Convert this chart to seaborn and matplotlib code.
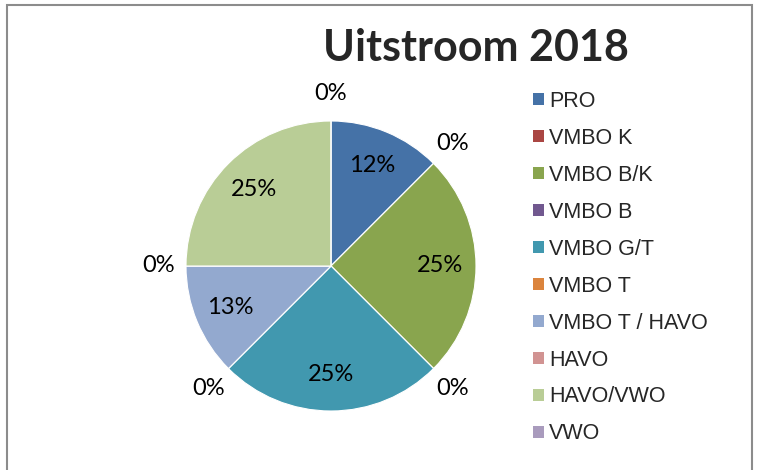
import numpy as np
import matplotlib
matplotlib.use("Agg")
import matplotlib.pyplot as plt
import seaborn as sns
from matplotlib.patches import Rectangle
from matplotlib.font_manager import FontProperties

categories = ["PRO", "VMBO K", "VMBO B/K", "VMBO B", "VMBO G/T", "VMBO T",
              "VMBO T / HAVO", "HAVO", "HAVO/VWO", "VWO"]
values = [1, 0, 2, 0, 2, 0, 1, 0, 2, 0]
pct_labels = ["12%", "0%", "25%", "0%", "25%", "0%", "13%", "0%", "25%", "0%"]
colors = ["#4572A7", "#AA4643", "#89A54E", "#71588F", "#4198AF", "#DB843D",
          "#93A9CF", "#D19392", "#B9CD96", "#A99BBD"]
title = "Uitstroom 2018"

sns.set_style("white")
plt.rcParams["font.family"] = ["Lato", "DejaVu Sans"]

W, H = 758, 470
fig = plt.figure(figsize=(W / 100, H / 100), dpi=100)
fig.patch.set_facecolor("white")

cx, cy, r = 331, 266, 145
ax = fig.add_axes([(cx - r) / W, (H - cy - r) / H, 2 * r / W, 2 * r / H])
pal = sns.color_palette(colors)
wedges, _ = ax.pie(values, colors=pal, startangle=90, counterclock=False,
                   wedgeprops=dict(edgecolor="white", linewidth=0.8))
ax.set_xlim(-1, 1)
ax.set_ylim(-1, 1)
ax.set_aspect("auto")
ax.axis("off")

for w, v, lab in zip(wedges, values, pct_labels):
    th = np.deg2rad((w.theta1 + w.theta2) / 2)
    d = 0.75 if v > 0 else 1.19
    ax.text(d * np.cos(th), d * np.sin(th), lab, ha="center", va="center",
            fontsize=17, color="black", clip_on=False, family=["Lato", "DejaVu Sans"])

fig.text(476 / W, 1 - 48 / H, title, ha="center", va="center",
         fontsize=31, fontweight="bold", family=["Lato", "DejaVu Sans"])

handles = [Rectangle((0, 0), 1, 1, facecolor=c, edgecolor="none") for c in pal]
legfont = FontProperties(family="Liberation Sans", size=15.5)
leg = fig.legend(handles, categories, loc="upper left",
                 bbox_to_anchor=(533 / W, 1 - 91 / H), frameon=False,
                 prop=legfont,
                 handlelength=0.5, handleheight=0.5, handletextpad=0.25,
                 labelspacing=0.74, borderaxespad=0, borderpad=0)

fig.patches.append(Rectangle((7 / W, -0.1), (752 - 7) / W, 1.1 - 5 / H,
                             transform=fig.transFigure, fill=False,
                             edgecolor="#8c8c8c", linewidth=1.5))

fig.savefig("out.png", dpi=100, facecolor="white")
